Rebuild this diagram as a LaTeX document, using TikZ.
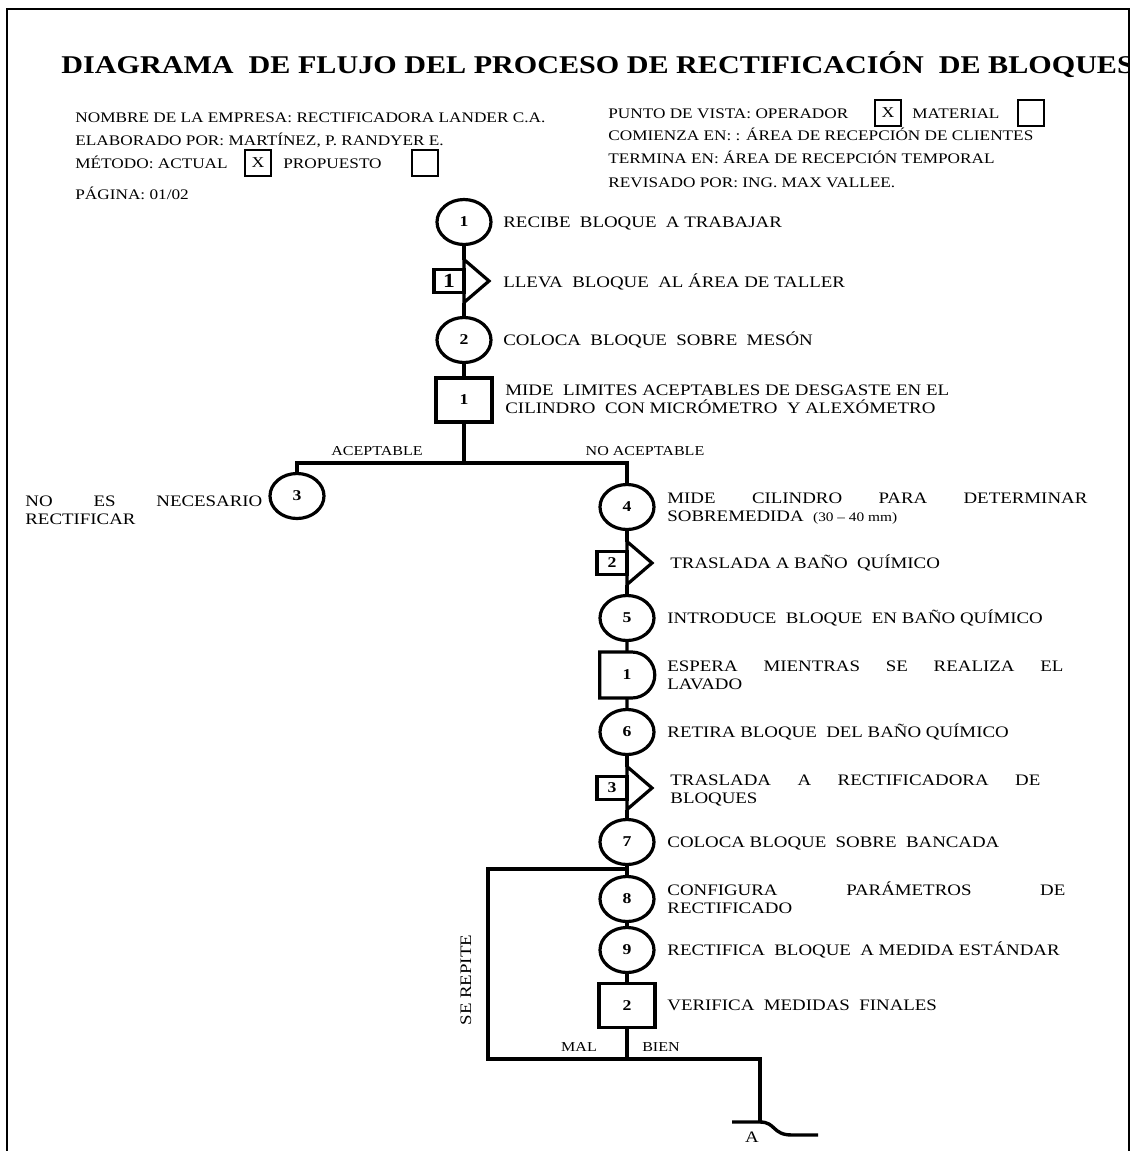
\documentclass[tikz,border=0pt]{standalone}
\usepackage{fontspec}
\setmainfont[FakeStretch=1.18]{Liberation Serif}
\usepackage{tikz}
\usetikzlibrary{shapes,calc}
\usetikzlibrary{positioning}
\tikzstyle{flujo} = [line width=1.7pt]
\tikzstyle{symb} = [line width=1.6pt]
\tikzstyle{oper} = [ellipse, draw, fill=white, line width=1.6pt, outer sep=0pt,
 inner sep=0pt, minimum width=27pt, minimum height=22.5pt,
 font=\bfseries\fontsize{7.5}{9}\selectfont]
\tikzstyle{insp} = [rectangle, draw, fill=white, line width=1.6pt, outer sep=0pt,
 inner sep=0pt, minimum width=28pt, minimum height=22pt,
 font=\bfseries\fontsize{7.5}{9}\selectfont]
\tikzstyle{espera} = [rounded rectangle, rounded rectangle left arc=none, draw,
 fill=white, line width=1.6pt, outer sep=0pt, inner sep=0pt,
 minimum width=27.5pt, minimum height=23pt,
 font=\bfseries\fontsize{7.5}{9}\selectfont]
\tikzstyle{tbody} = [rectangle, draw, fill=white, line width=1.6pt, outer sep=0pt,
 inner sep=0pt, minimum width=15pt, minimum height=11.5pt,
 font=\bfseries\fontsize{7.5}{9}\selectfont]
\tikzstyle{txt} = [anchor=base west, inner sep=0pt, align=left,
 font=\fontsize{8}{9}\selectfont]
\tikzstyle{head} = [anchor=base west, inner sep=0pt, font=\fontsize{7.3}{9}\selectfont]
\tikzstyle{lbl} = [anchor=base, inner sep=0pt, font=\fontsize{6.8}{8}\selectfont]
\tikzstyle{chk} = [rectangle, draw, line width=0.6pt, minimum size=13pt, inner sep=0pt,
 font=\fontsize{7.5}{9}\selectfont]

% transporte: name, x of flow line, y, number
\newcommand{\transp}[4]{%
 \node[tbody] (#1) at (#2-15,#3) {#4};
 \coordinate (#1top) at (#2,#3-21.5);
 \coordinate (#1bot) at (#2,#3+21.5);
 \draw[symb, line join=miter] (#1.north east) -- (#1top) -- (#2+25,#3) -- (#1bot) -- (#1.south east);
}

\begin{document}
\begin{tikzpicture}[x=0.5pt, y=-0.5pt]
\useasboundingbox (0,0) rectangle (1137,1151);

% marco
\draw[line width=0.8pt] (7,1151) -- (7,9) -- (1129,9) -- (1129,1151);

\begin{scope}
\clip (7,0) rectangle (1129,1151);
\node[anchor=base west, inner sep=0pt, font=\bfseries\fontsize{12.76}{15}\selectfont]
 (titulo) at (61,73) {DIAGRAMA~ DE FLUJO DEL PROCESO DE RECTIFICACIÓN~ DE BLOQUES};
\end{scope}

% encabezado
\node[head] (empresa) at (75,122) {NOMBRE DE LA EMPRESA: RECTIFICADORA LANDER C.A.};
\node[head] (elab) at (75,145) {ELABORADO POR: MARTÍNEZ, P. RANDYER E.};
\node[head] (metodo) at (75,168) {MÉTODO: ACTUAL};
\node[chk] (actual) at (258,163) {X};
\node[head] (prop) at (283,168) {PROPUESTO};
\node[chk] (propbox) at (425,163) {};
\node[head] (pagina) at (75,199) {PÁGINA: 01/02};

\node[head] (vista) at (608,118) {PUNTO DE VISTA: OPERADOR};
\node[chk] (operbox) at (888,113) {X};
\node[head] (mat) at (912,118) {MATERIAL};
\node[chk] (matbox) at (1031,113) {};
\node[head] (comienza) at (608,140) {COMIENZA EN: : ÁREA DE RECEPCIÓN DE CLIENTES};
\node[head] (termina) at (608,163) {TERMINA EN: ÁREA DE RECEPCIÓN TEMPORAL};
\node[head] (revisado) at (608,187) {REVISADO POR: ING. MAX VALLEE.};

% columna principal
\node[oper] (c1) at (464,222) {1};
\node[txt] at (503,227) {RECIBE~ BLOQUE~ A TRABAJAR};
\transp{t1}{464}{281}{\fontsize{10}{10}\selectfont 1}
\node[txt] at (503,287) {LLEVA~ BLOQUE~ AL ÁREA DE TALLER};
\node[oper] (c2) at (464,340) {2};
\node[txt] at (503,345) {COLOCA~ BLOQUE~ SOBRE~ MESÓN};
\node[insp] (b1) at (464,400) {1};
\node[txt] at (505,413) {MIDE~ LIMITES ACEPTABLES DE DESGASTE EN EL\\
 CILINDRO~ CON MICRÓMETRO~ Y ALEXÓMETRO};

\coordinate (j1) at (464,463);
\coordinate (jl) at (297,463);
\coordinate (jr) at (627,463);
\draw[flujo] (c1) -- (t1top);
\draw[flujo] (t1bot) -- (c2);
\draw[flujo] (c2) -- (b1);
\draw[flujo] (b1) -- (j1);
\node[lbl] at (377,455) {ACEPTABLE};
\node[lbl] at (645,455) {NO ACEPTABLE};

% rama aceptable
\node[oper] (c3) at (297,496) {3};
\node[txt] at (25,524) {\makebox[118.5pt][s]{NO ES NECESARIO}\\RECTIFICAR};
\draw[flujo] (j1) -- (jl) -- (c3);

% rama no aceptable
\node[oper] (c4) at (627,507) {4};
\node[txt] at (667,521) {\makebox[210pt][s]{MIDE CILINDRO PARA DETERMINAR}\\
 SOBREMEDIDA~ {\fontsize{6.5}{8}\selectfont(30 -- 40 mm)}};
\draw[flujo] (j1) -- (jr) -- (c4);
\transp{t2}{627}{563}{2}
\node[txt] at (670,568) {TRASLADA A BAÑO~ QUÍMICO};
\node[oper] (c5) at (627,618) {5};
\node[txt] at (667,623) {INTRODUCE~ BLOQUE~ EN BAÑO QUÍMICO};
\node[espera] (d1) at (627,675) {1};
\node[txt] at (667,689) {\makebox[198pt][s]{ESPERA MIENTRAS SE REALIZA EL}\\LAVADO};
\node[oper] (c6) at (627,732) {6};
\node[txt] at (667,737) {RETIRA BLOQUE~ DEL BAÑO QUÍMICO};
\transp{t3}{627}{788}{3}
\node[txt] at (670,803) {\makebox[185pt][s]{TRASLADA A RECTIFICADORA DE}\\BLOQUES};
\node[oper] (c7) at (627,842) {7};
\node[txt] at (667,847) {COLOCA BLOQUE~ SOBRE~ BANCADA};
\node[oper] (c8) at (627,899) {8};
\node[txt] at (667,913) {\makebox[199pt][s]{CONFIGURA PARÁMETROS DE}\\RECTIFICADO};
\node[oper] (c9) at (627,950) {9};
\node[txt] at (667,955) {RECTIFICA~ BLOQUE~ A MEDIDA ESTÁNDAR};
\node[insp] (b2) at (627,1005.5) {2};
\node[txt] at (667,1010) {VERIFICA~ MEDIDAS~ FINALES};

\draw[flujo] (c4) -- (t2top);
\draw[flujo] (t2bot) -- (c5);
\draw[flujo] (c5) -- (d1);
\draw[flujo] (d1) -- (c6);
\draw[flujo] (c6) -- (t3top);
\draw[flujo] (t3bot) -- (c7);
\draw[flujo] (c7) -- (c8);
\draw[flujo] (c8) -- (c9);
\draw[flujo] (c9) -- (b2);

% ciclo de repeticion
\coordinate (j2) at (627,869);
\coordinate (j3) at (627,1059);
\coordinate (ml) at (488,1059);
\coordinate (mt) at (488,869);
\coordinate (br) at (760,1059);
\coordinate (fin) at (760,1122);
\draw[flujo] (b2) -- (j3);
\draw[flujo] (j3) -- (ml) -- (mt) -- (j2);
\draw[flujo] (j3) -- (br) -- (fin);
\node[lbl] at (579,1051) {MAL};
\node[lbl] at (661,1051) {BIEN};
\node[rotate=90, inner sep=0pt, font=\fontsize{8}{9}\selectfont] (repite) at (466,980) {SE REPITE};

% conector de pagina
\coordinate (w1) at (732,1122);
\coordinate (w2) at (818,1135);
\draw[flujo] (w1) -- (fin) .. controls (776,1122) and (772,1135) .. (792,1135) -- (w2);
\node[lbl, font=\fontsize{8}{9}\selectfont] (a) at (752,1142) {A};

\end{tikzpicture}
\end{document}
